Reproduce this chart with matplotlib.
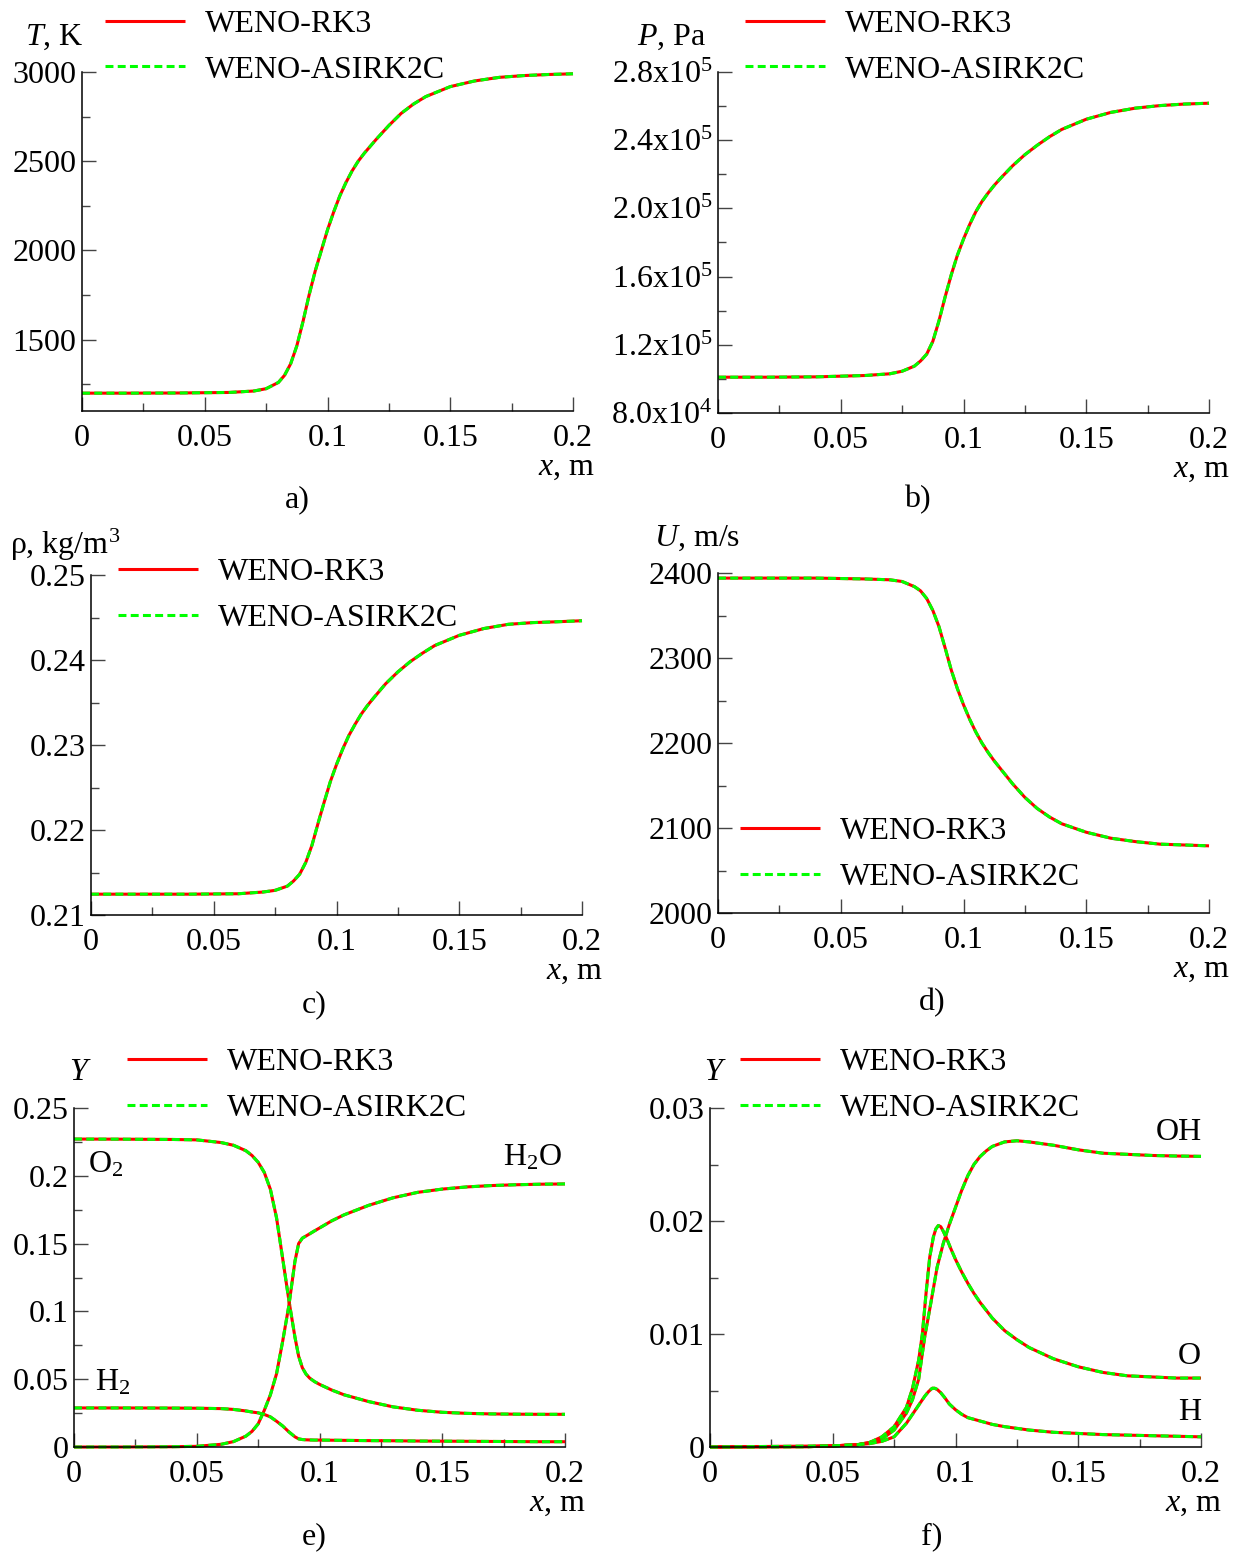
import numpy as np
import matplotlib
matplotlib.use('Agg')
import matplotlib.pyplot as plt
from matplotlib.ticker import FixedLocator, FixedFormatter, MultipleLocator

plt.rcParams['font.family'] = 'Liberation Serif'
plt.rcParams['mathtext.fontset'] = 'custom'
plt.rcParams['mathtext.rm'] = 'Liberation Serif'
plt.rcParams['mathtext.it'] = 'Liberation Serif:italic'

# ---- data (both schemes overlap) ----
x_a = [0, 0.02, 0.04, 0.06, 0.07, 0.075, 0.08, 0.0825, 0.085, 0.0875, 0.09,
       0.0925, 0.095, 0.0975, 0.1, 0.1025, 0.105, 0.1075, 0.11, 0.1125, 0.115,
       0.12, 0.125, 0.13, 0.135, 0.14, 0.15, 0.16, 0.17, 0.18, 0.19, 0.2]
T = [1200, 1200, 1201, 1204, 1212, 1225, 1260, 1300, 1365, 1465, 1600, 1750,
     1885, 2000, 2115, 2215, 2305, 2380, 2445, 2500, 2545, 2625, 2700, 2768,
     2820, 2862, 2918, 2950, 2970, 2980, 2986, 2990]
P = [101000, 101000, 101200, 102000, 103000, 104500, 107500, 110500, 114500,
     122000, 134000, 148000, 161000, 172500, 182000, 190500, 198000, 204000,
     209000, 213500, 217500, 225000, 231500, 237000, 242000, 246300, 252300,
     256300, 258800, 260300, 261200, 261700]
rho = [0.21245, 0.21245, 0.21245, 0.2125, 0.2127, 0.2129, 0.2134, 0.2140,
       0.2148, 0.2162, 0.2182, 0.2208, 0.2233, 0.2257, 0.2277, 0.2295, 0.2311,
       0.2324, 0.2336, 0.2346, 0.2355, 0.2372, 0.2386, 0.2398, 0.2408, 0.2417,
       0.2429, 0.2437, 0.2442, 0.2444, 0.2445, 0.24462]
U = [2394, 2394, 2394, 2393, 2392, 2390, 2384, 2379, 2370, 2356, 2337, 2312,
     2286, 2264, 2245, 2228, 2213, 2200, 2189, 2179, 2170, 2152, 2136, 2123,
     2113, 2105, 2095, 2088, 2084, 2081, 2080, 2079]

x_e = [0, 0.02, 0.04, 0.05, 0.06, 0.065, 0.07, 0.0725, 0.075, 0.0775, 0.08,
       0.0825, 0.085, 0.0875, 0.09, 0.0915, 0.093, 0.0945, 0.096, 0.098, 0.1,
       0.105, 0.11, 0.12, 0.13, 0.14, 0.15, 0.16, 0.17, 0.18, 0.19, 0.2]
Y_O2 = [0.2271, 0.2270, 0.2268, 0.2265, 0.2245, 0.2225, 0.2185, 0.2150, 0.2100,
        0.2025, 0.1900, 0.1690, 0.1390, 0.1085, 0.0810, 0.0670, 0.0585, 0.0538,
        0.0508, 0.0482, 0.0462, 0.0420, 0.0385, 0.0335, 0.0296, 0.0271, 0.0256,
        0.0248, 0.0244, 0.0242, 0.0241, 0.0241]
Y_H2O = [0, 0, 0.0002, 0.0005, 0.0020, 0.0040, 0.0080, 0.0115, 0.0170, 0.0270,
         0.0385, 0.0540, 0.0780, 0.1040, 0.1370, 0.1500, 0.1540, 0.1556, 0.1572,
         0.1594, 0.1615, 0.1668, 0.1712, 0.1782, 0.1838, 0.1878, 0.1902,
         0.1918, 0.1928, 0.1934, 0.1938, 0.1940]
Y_H2 = [0.0288, 0.0288, 0.0287, 0.0286, 0.0283, 0.0277, 0.0266, 0.0258, 0.0252,
        0.0240, 0.0222, 0.0190, 0.0155, 0.0112, 0.0075, 0.0060, 0.0055, 0.0053,
        0.0052, 0.0051, 0.0051, 0.0050, 0.0049, 0.0047, 0.0046, 0.0044, 0.0043,
        0.0042, 0.0041, 0.0040, 0.0039, 0.0039]

x_OH = [0, 0.04, 0.05, 0.06, 0.065, 0.07, 0.075, 0.08, 0.0825, 0.085, 0.0875,
        0.09, 0.0925, 0.095, 0.0975, 0.1, 0.1025, 0.105, 0.1075, 0.11, 0.1125,
        0.115, 0.12, 0.125, 0.13, 0.14, 0.15, 0.16, 0.17, 0.18, 0.19, 0.2]
Y_OH = [0, 0.00003, 0.0001, 0.0002, 0.0004, 0.0007, 0.0015, 0.0030, 0.0042,
        0.0060, 0.0098, 0.0128, 0.0159, 0.0180, 0.0197, 0.0212, 0.0227, 0.0240,
        0.0250, 0.0257, 0.0262, 0.0266, 0.0270, 0.0271, 0.0270, 0.0267, 0.0263,
        0.0260, 0.0259, 0.0258, 0.02575, 0.02572]
x_O = [0, 0.04, 0.05, 0.06, 0.065, 0.07, 0.075, 0.08, 0.0825, 0.085, 0.0865,
       0.088, 0.0895, 0.091, 0.092, 0.093, 0.094, 0.095, 0.0965, 0.098, 0.1,
       0.1025, 0.105, 0.1075, 0.11, 0.115, 0.12, 0.125, 0.13, 0.14, 0.15, 0.16,
       0.17, 0.18, 0.19, 0.2]
Y_O = [0, 0.00003, 0.0001, 0.0002, 0.0004, 0.0009, 0.0018, 0.0035, 0.0052,
       0.0077, 0.0100, 0.0136, 0.0168, 0.0186, 0.0193, 0.0196, 0.0195, 0.0191,
       0.0184, 0.0176, 0.0166, 0.0155, 0.0145, 0.0136, 0.0128, 0.0114, 0.0103,
       0.0095, 0.0088, 0.0078, 0.0071, 0.0066, 0.0063, 0.0062, 0.0061, 0.0061]
x_H = [0, 0.05, 0.06, 0.065, 0.07, 0.075, 0.08, 0.085, 0.0875, 0.089, 0.0905,
       0.0915, 0.0925, 0.094, 0.0955, 0.0975, 0.1, 0.1025, 0.105, 0.11, 0.115,
       0.12, 0.13, 0.14, 0.15, 0.16, 0.17, 0.18, 0.19, 0.2]
Y_H = [0, 0.0001, 0.0002, 0.0003, 0.0005, 0.0009, 0.0021, 0.0037, 0.0045,
       0.0049, 0.0052, 0.0052, 0.0051, 0.0048, 0.0044, 0.0038, 0.0033, 0.0029,
       0.0026, 0.0023, 0.0020, 0.0018, 0.0015, 0.0013, 0.0012, 0.0011, 0.00105,
       0.0010, 0.00095, 0.0009]

x_ticks = [0, 0.05, 0.1, 0.15, 0.2]
x_ticklabels = ['0', '0.05', '0.1', '0.15', '0.2']
P_ticks = [8.0e4, 1.2e5, 1.6e5, 2.0e5, 2.4e5, 2.8e5]
P_ticklabels = ['8.0x10$^4$', '1.2x10$^5$', '1.6x10$^5$', '2.0x10$^5$',
                '2.4x10$^5$', '2.8x10$^5$']
labels = ['WENO-RK3', 'WENO-ASIRK2C']

# ---- layout (pixel boxes of the reference) ----
W, H = 1240, 1554
FS = 23


def box(l, t, r, b):
    return [l / W, 1 - b / H, (r - l) / W, (b - t) / H]


def ftext(x, y, s, ha='center', **kw):
    fig.text(x / W, 1 - y / H, s, ha=ha, va='center', fontsize=FS, **kw)


fig = plt.figure(figsize=(W / 100, H / 100), dpi=100)


def setup(ax, ylim, ymajor, yminor):
    ax.set_xlim(0, 0.2)
    ax.set_ylim(*ylim)
    for s in ['top', 'right']:
        ax.spines[s].set_visible(False)
    for s in ['left', 'bottom']:
        ax.spines[s].set_linewidth(1.1)
    ax.xaxis.set_major_locator(FixedLocator(x_ticks))
    ax.xaxis.set_major_formatter(FixedFormatter(x_ticklabels))
    ax.xaxis.set_minor_locator(MultipleLocator(0.025))
    ax.yaxis.set_major_locator(MultipleLocator(ymajor))
    ax.yaxis.set_minor_locator(MultipleLocator(yminor))
    ax.tick_params(which='both', direction='in', labelsize=FS, color='#444444',
                   width=1.0)
    ax.tick_params(which='major', length=10)
    ax.tick_params(which='minor', length=5.5)
    ax.tick_params(axis='x', pad=9.5)
    ax.tick_params(axis='y', pad=4)


def curves(ax, xs, ys):
    ax.plot(xs, ys, color='#ff0000', lw=2.2, solid_capstyle='butt',
            label=labels[0], clip_on=False)
    ax.plot(xs, ys, color='#00ff00', lw=2.2, dashes=(2.6, 1.4),
            label=labels[1], clip_on=False)


def legend(ax, x, y):
    h, l = ax.get_legend_handles_labels()
    ax.legend(h[:2], l[:2], loc='center left', bbox_to_anchor=(x / W, 1 - y / H),
              bbox_transform=fig.transFigure, frameon=False, fontsize=FS,
              borderpad=0, borderaxespad=0, handlelength=2.5,
              handletextpad=0.62, labelspacing=0.52)


# a) temperature
ax = fig.add_axes(box(82, 72, 573, 411))
setup(ax, (1100, 3000), 500, 250)
ax.yaxis.set_major_locator(FixedLocator([1500, 2000, 2500, 3000]))
curves(ax, x_a, T)
legend(ax, 105, 47)
ftext(54, 37, '$T$, K')
ftext(595, 468, '$x$, m', ha='right')
ftext(297, 500, 'a)')

# b) pressure
ax = fig.add_axes(box(718, 72, 1209, 413))
setup(ax, (8.0e4, 2.8e5), 4e4, 2e4)
ax.yaxis.set_major_locator(FixedLocator(P_ticks))
ax.yaxis.set_major_formatter(FixedFormatter(P_ticklabels))
curves(ax, x_a, P)
legend(ax, 745, 47)
ftext(672, 37, '$P$, Pa')
ftext(1230, 469, '$x$, m', ha='right')
ftext(917, 500, 'b)')

# c) density
ax = fig.add_axes(box(91, 575, 582, 915))
setup(ax, (0.21, 0.25), 0.01, 0.005)
ax.yaxis.set_major_locator(FixedLocator([0.21, 0.22, 0.23, 0.24, 0.25]))
ax.yaxis.set_major_formatter(FixedFormatter(['0.21', '0.22', '0.23', '0.24', '0.25']))
curves(ax, x_a, rho)
legend(ax, 118, 595.5)
ftext(65, 545, 'ρ, kg/m$^3$')
ftext(603, 971, '$x$, m', ha='right')
ftext(314, 1005, 'c)')

# d) velocity
ax = fig.add_axes(box(718, 573, 1209, 913))
setup(ax, (2000, 2400), 100, 50)
curves(ax, x_a, U)
legend(ax, 740, 854.5)
ftext(697, 538, '$U$, m/s')
ftext(1230, 969, '$x$, m', ha='right')
ftext(932, 1003, 'd)')

# e) major species
ax = fig.add_axes(box(74, 1108, 565, 1447))
setup(ax, (0, 0.25), 0.05, 0.025)
ax.yaxis.set_major_locator(FixedLocator([0, 0.05, 0.1, 0.15, 0.2, 0.25]))
ax.yaxis.set_major_formatter(FixedFormatter(['0', '0.05', '0.1', '0.15', '0.2', '0.25']))
curves(ax, x_e, Y_O2)
curves(ax, x_e, Y_H2O)
curves(ax, x_e, Y_H2)
legend(ax, 127, 1085.5)
ftext(80, 1073, '$Y$')
ftext(88, 1165, 'O$_2$', ha='left')
ftext(503, 1158, 'H$_2$O', ha='left')
ftext(95, 1383, 'H$_2$', ha='left')
ftext(586, 1503, '$x$, m', ha='right')
ftext(314, 1537, 'e)')

# f) radicals
ax = fig.add_axes(box(710, 1108, 1201, 1447))
setup(ax, (0, 0.03), 0.01, 0.005)
ax.yaxis.set_major_locator(FixedLocator([0, 0.01, 0.02, 0.03]))
ax.yaxis.set_major_formatter(FixedFormatter(['0', '0.01', '0.02', '0.03']))
curves(ax, x_OH, Y_OH)
curves(ax, x_O, Y_O)
curves(ax, x_H, Y_H)
legend(ax, 740, 1085.5)
ftext(715, 1073, '$Y$')
ftext(1202, 1132, 'OH', ha='right')
ftext(1201, 1357, 'O', ha='right')
ftext(1201, 1412, 'H', ha='right')
ftext(1222, 1503, '$x$, m', ha='right')
ftext(932, 1537, 'f)')

fig.savefig('out.png', dpi=100)
